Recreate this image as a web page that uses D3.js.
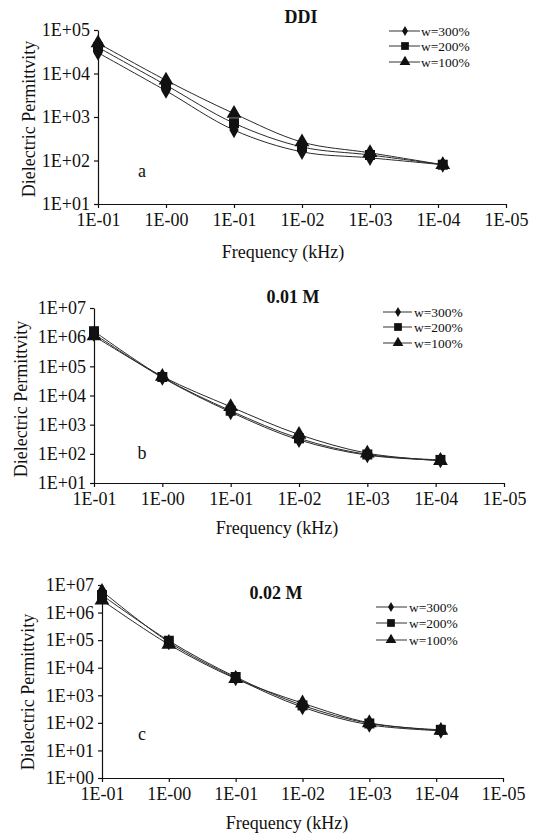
<!DOCTYPE html>
<html>
<head>
<meta charset="utf-8">
<title>Dielectric Permittivity</title>
<style>
	body { margin: 0; background: #fff; }
	svg { display: block; }
	text { font-family: "Liberation Serif", "Times New Roman", serif; fill: #111; }
</style>
</head>
<body>
<script src="https://cdn.jsdelivr.net/npm/d3@7"></script>
<script>
	// tick labels as printed on the original figure
	var xLabels = ["1E-01", "1E-00", "1E-01", "1E-02", "1E-03", "1E-04", "1E-05"];
	// position of each measured point along the x axis (in tick units)
	var xPos = [0, 1, 2, 3, 4, 5.07];
	var seriesNames = ["w=300%", "w=200%", "w=100%"];

	// panel a - DDI
	var ddi300 = [3.0e4, 4.0e3, 500, 158, 115, 80];
	var ddi200 = [4.0e4, 5.4e3, 720, 205, 134, 80];
	var ddi100 = [5.0e4, 7.0e3, 1.2e3, 265, 150, 80];
	// panel b - 0.01 M
	var m01_300 = [1.3e6, 4.1e4, 2.7e3, 300, 90, 60];
	var m01_200 = [1.6e6, 4.3e4, 3.0e3, 340, 95, 62];
	var m01_100 = [1.1e6, 4.5e4, 4.1e3, 460, 105, 58];
	// panel c - 0.02 M
	var m02_300 = [6.0e6, 8.5e4, 4.2e3, 370, 85, 52];
	var m02_200 = [4.3e6, 9.5e4, 4.6e3, 430, 95, 56];
	var m02_100 = [2.8e6, 7.0e4, 4.0e3, 520, 100, 53];

	var yMin = [1, 1, 0], yMax = [5, 7, 7];   // decades shown on each panel

	var w = 542, h = 835;
	var svg = d3.select("body").append("svg")
			.attr("width", w)
			.attr("height", h);

	var symbols = [d3.symbolDiamond, d3.symbolSquare, d3.symbolTriangle];
	var plotSize = [75, 100, 95];
	var legSize = [30, 60, 50];

	var panels = [
		{ title: "DDI", letter: "a", series: [ddi300, ddi200, ddi100], lo: yMin[0], hi: yMax[0],
		  x0: 98, x1: 506, y0: 30, y1: 204, titleX: 301, titleY: 23,
		  ylabX: 35, ylabY: 119, xlabX: 283, xlabY: 258, letX: 142, letY: 177,
		  legX0: 389, legX1: 420, legM: 405, legT: 421, legY: [31, 46, 62] },
		{ title: "0.01 M", letter: "b", series: [m01_300, m01_200, m01_100], lo: yMin[1], hi: yMax[1],
		  x0: 94, x1: 504, y0: 308, y1: 483, titleX: 293, titleY: 303,
		  ylabX: 27, ylabY: 399, xlabX: 277, xlabY: 534, letX: 142, letY: 459,
		  legX0: 383, legX1: 412, legM: 398, legT: 414, legY: [312, 327, 343] },
		{ title: "0.02 M", letter: "c", series: [m02_300, m02_200, m02_100], lo: yMin[2], hi: yMax[2],
		  x0: 102, x1: 503, y0: 585, y1: 778, titleX: 276, titleY: 599,
		  ylabX: 34, ylabY: 692, xlabX: 287, xlabY: 829, letX: 142, letY: 740,
		  legX0: 376, legX1: 407, legM: 391, legT: 409, legY: [607, 623, 640] }
	];

	function expLabel(d) {
		var e = Math.round(Math.log10(d));
		return "1E" + (e < 0 ? "-" : "+") + String(Math.abs(e)).padStart(2, "0");
	}

	panels.forEach(function(p) {
		var g = svg.append("g");
		var x = d3.scaleLinear().domain([0, 6]).range([p.x0, p.x1]);
		var y = d3.scaleLog().domain([Math.pow(10, p.lo), Math.pow(10, p.hi)]).range([p.y1, p.y0]);
		var yTicks = d3.range(p.lo, p.hi + 1).map(function(e) { return Math.pow(10, e); });

		g.append("g")
			.attr("transform", "translate(0," + p.y1 + ")")
			.call(d3.axisBottom(x)
				.tickValues(d3.range(0, 7))
				.tickFormat(function(i) { return xLabels[i]; })
				.tickSize(4).tickSizeOuter(0).tickPadding(5));
		g.append("g")
			.attr("transform", "translate(" + p.x0 + ",0)")
			.call(d3.axisLeft(y)
				.tickValues(yTicks)
				.tickFormat(expLabel)
				.tickSize(4).tickSizeOuter(0).tickPadding(4));
		g.selectAll(".domain, .tick line").attr("stroke", "#111").attr("stroke-width", 1.2);
		g.selectAll(".tick text")
			.attr("font-size", "18px")
			.attr("fill", "#111");

		var line = d3.line()
				.x(function(d, i) { return x(xPos[i]); })
				.y(function(d) { return y(d); })
				.curve(d3.curveCatmullRom.alpha(0.5));

		p.series.forEach(function(s) {
			g.append("path")
				.datum(s)
				.attr("d", line)
				.attr("fill", "none")
				.attr("stroke", "#2a2a2a")
				.attr("stroke-width", 1);
		});
		p.series.forEach(function(s, k) {
			g.selectAll(".m" + k)
				.data(s)
				.enter()
				.append("path")
					.attr("class", "m" + k)
					.attr("transform", function(d, i) { return "translate(" + x(xPos[i]) + "," + y(d) + ")"; })
					.attr("d", d3.symbol().type(symbols[k]).size(plotSize[k]))
					.attr("fill", "#111");
		});

		// title, axis titles, panel letter
		g.append("text")
			.attr("x", p.titleX).attr("y", p.titleY)
			.attr("text-anchor", "middle")
			.attr("font-weight", "bold")
			.attr("font-size", "18px")
			.text(p.title);
		g.append("text")
			.attr("transform", "translate(" + p.ylabX + "," + p.ylabY + ") rotate(-90)")
			.attr("text-anchor", "middle")
			.attr("font-size", "18px")
			.text("Dielectric Permittvity");
		g.append("text")
			.attr("x", p.xlabX).attr("y", p.xlabY)
			.attr("text-anchor", "middle")
			.attr("font-size", "18px")
			.text("Frequency (kHz)");
		g.append("text")
			.attr("x", p.letX).attr("y", p.letY)
			.attr("text-anchor", "middle")
			.attr("font-size", "18px")
			.text(p.letter);

		// legend
		var leg = g.selectAll(".leg")
				.data(seriesNames)
				.enter()
				.append("g")
					.attr("transform", function(d, i) { return "translate(0," + p.legY[i] + ")"; });
		leg.append("line")
			.attr("x1", p.legX0).attr("x2", p.legX1)
			.attr("stroke", "#333").attr("stroke-width", 1);
		leg.append("path")
			.attr("transform", "translate(" + p.legM + ",0)")
			.attr("d", function(d, i) { return d3.symbol().type(symbols[i]).size(legSize[i])(); })
			.attr("fill", "#111");
		leg.append("text")
			.attr("x", p.legT).attr("y", 5)
			.attr("font-size", "13.5px")
			.text(function(d) { return d; });
	});
</script>
</body>
</html>
